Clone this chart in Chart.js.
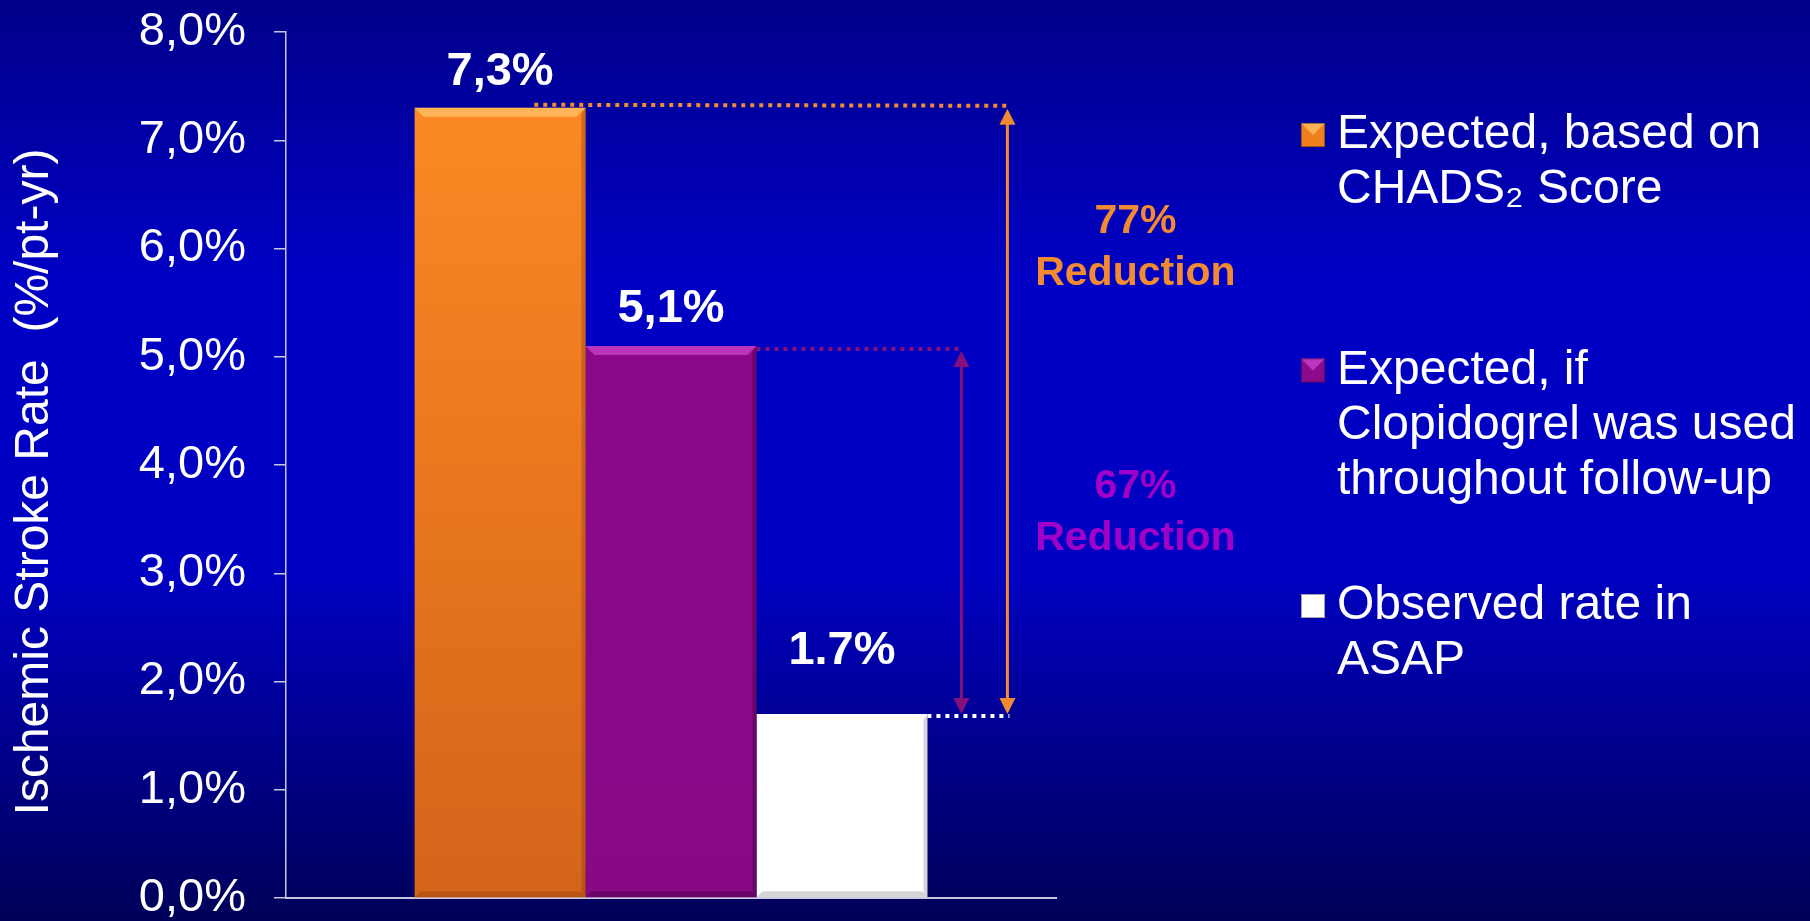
<!DOCTYPE html>
<html>
<head>
<meta charset="utf-8">
<title>Ischemic stroke rate</title>
<script src="https://cdn.jsdelivr.net/npm/chart.js@4.4.1/dist/chart.umd.min.js"></script>
<style>
  html, body { margin: 0; padding: 0; background: #000080; }
  #wrap { width: 1810px; height: 921px; }
</style>
</head>
<body>
<div id="wrap"><canvas id="bar-chart" width="1810" height="921"></canvas></div>
<script>
const FONT = "'Liberation Sans', Arial, Helvetica, sans-serif";

// data
const categories = ['ASAP'];
const seriesValues = [7.3, 5.1, 1.7];
const valueLabels = ['7,3%', '5,1%', '1.7%'];
const legendLines = [
  ['Expected, based on', 'CHADS\u2082 Score'],
  ['Expected, if', 'Clopidogrel was used', 'throughout follow-up'],
  ['Observed rate in', 'ASAP']
];
const yTickLabels = ['0,0%', '1,0%', '2,0%', '3,0%', '4,0%', '5,0%', '6,0%', '7,0%', '8,0%'];
const yTitle = 'Ischemic Stroke Rate  (%/pt-yr)';
// reduction notes: text, starting bar, value where the note sits
const reductionText = [['77%', 'Reduction'], ['67%', 'Reduction']];
const reductionFrom = [0, 1];
const reductionAt = [6.25, 3.8];

// styles
const barTop = ['#ff8c24', '#8c0a8c', '#ffffff'];
const barBottom = ['#d4641a', '#880886', '#ffffff'];
const bevelLight = ['rgba(255,210,120,0.6)', 'rgba(210,70,210,0.7)', 'rgba(255,255,255,1)'];
const bevelDark = ['rgba(150,60,10,0.4)', 'rgba(60,0,60,0.4)', 'rgba(120,120,130,0.3)'];
const markerColors = ['#f0801e', '#8c0a8c', '#ffffff'];
const noteColors = ['#f28a32', '#a000c8'];
const arrowColors = ['#f28a32', '#86107a'];
const labelLift = [36, 37, 63];

function barFill(i) {
  return (ctx) => {
    const area = ctx.chart.chartArea;
    if (!area) return barTop[i];
    const g = ctx.chart.ctx.createLinearGradient(0, area.top, 0, area.bottom);
    g.addColorStop(0, barTop[i]);
    g.addColorStop(1, barBottom[i]);
    return g;
  };
}

const background = {
  id: 'background',
  beforeDraw(chart) {
    const c = chart.ctx;
    const g = c.createLinearGradient(0, 0, 0, chart.height);
    g.addColorStop(0, '#00008a');
    g.addColorStop(0.3, '#0000c4');
    g.addColorStop(0.62, '#0000c2');
    g.addColorStop(1, '#000058');
    c.save();
    c.fillStyle = g;
    c.fillRect(0, 0, chart.width, chart.height);
    c.restore();
  }
};

function arrowHead(c, x, y, dir) {
  c.beginPath();
  c.moveTo(x, y);
  c.lineTo(x - 8, y + dir * 16);
  c.lineTo(x + 8, y + dir * 16);
  c.closePath();
  c.fill();
}

function dotted(c, x1, y1, x2, y2, color) {
  c.save();
  c.strokeStyle = color;
  c.lineWidth = 4;
  c.setLineDash([4, 5]);
  c.beginPath();
  c.moveTo(x1, y1);
  c.lineTo(x2, y2);
  c.stroke();
  c.restore();
}

const annotations = {
  id: 'annotations',
  afterDatasetsDraw(chart) {
    const c = chart.ctx;
    const y = chart.scales.y;
    const bars = seriesValues.map((v, i) => chart.getDatasetMeta(i).data[0]);

    // bevel on each bar
    bars.forEach((b, i) => {
      const l = b.x - b.width / 2, r = b.x + b.width / 2, t = b.y, bt = b.base;
      c.save();
      c.fillStyle = bevelLight[i];
      c.beginPath();
      c.moveTo(l, t); c.lineTo(r, t); c.lineTo(r - 9, t + 9); c.lineTo(l + 9, t + 9);
      c.closePath(); c.fill();
      c.fillStyle = bevelDark[i];
      c.beginPath();
      c.moveTo(r, t); c.lineTo(r, bt); c.lineTo(r - 4, bt - 4); c.lineTo(r - 4, t + 6);
      c.closePath(); c.fill();
      c.beginPath();
      c.moveTo(l, bt); c.lineTo(r, bt); c.lineTo(r - 6, bt - 6); c.lineTo(l + 6, bt - 6);
      c.closePath(); c.fill();
      c.restore();
    });

    // value labels
    c.save();
    c.fillStyle = '#ffffff';
    c.font = 'bold 47px ' + FONT;
    c.textAlign = 'center';
    c.textBaseline = 'middle';
    bars.forEach((b, i) => c.fillText(valueLabels[i], b.x, b.y - labelLift[i]));
    c.restore();

    const last = bars[bars.length - 1];
    const edge = last.x + last.width / 2;
    const arrowX = [edge + 80, edge + 34];

    // dotted guides
    dotted(c, bars[0].x + bars[0].width * 0.2, bars[0].y - 3, arrowX[0], bars[0].y - 2, noteColors[0]);
    dotted(c, bars[1].x + bars[1].width / 2, bars[1].y + 3, arrowX[1], bars[1].y + 3, arrowColors[1]);
    dotted(c, edge, last.y + 2, arrowX[0] + 2, last.y + 2, '#ffffff');

    // double arrows
    reductionFrom.forEach((from, k) => {
      const top = bars[from].y + (k === 0 ? 1 : 5);
      const bot = last.y;
      c.save();
      c.strokeStyle = arrowColors[k];
      c.fillStyle = arrowColors[k];
      c.lineWidth = 3;
      c.beginPath();
      c.moveTo(arrowX[k], top + 10);
      c.lineTo(arrowX[k], bot - 10);
      c.stroke();
      arrowHead(c, arrowX[k], top, 1);
      arrowHead(c, arrowX[k], bot, -1);
      c.restore();
    });

    // reduction notes
    c.save();
    c.font = 'bold 41px ' + FONT;
    c.textAlign = 'center';
    c.textBaseline = 'middle';
    reductionText.forEach((lines, k) => {
      c.fillStyle = noteColors[k];
      const cy = y.getPixelForValue(reductionAt[k]);
      lines.forEach((t, j) => c.fillText(t, edge + 208, cy + j * 52));
    });
    c.restore();
  },
  afterDraw(chart) {
    const c = chart.ctx;
    const area = chart.chartArea;

    // axis title
    c.save();
    c.translate(35, area.top + (area.bottom - area.top) / 2 + 17);
    c.rotate(-Math.PI / 2);
    c.font = '48px ' + FONT;
    c.fillStyle = '#ffffff';
    c.textAlign = 'center';
    c.textBaseline = 'middle';
    c.fillText(yTitle, 0, 0);
    c.restore();

    // legend
    const mx = area.right + 245, tx = mx + 36;
    c.save();
    c.font = '48px ' + FONT;
    c.textBaseline = 'middle';
    legendLines.forEach((lines, i) => {
      const gy = area.top + 103 + i * 235.5;
      // marker with a small bevel
      c.fillStyle = markerColors[i];
      c.fillRect(mx, gy - 12, 24, 24);
      c.fillStyle = bevelLight[i];
      c.beginPath();
      c.moveTo(mx, gy - 12); c.lineTo(mx + 24, gy - 12); c.lineTo(mx + 12, gy); c.closePath();
      c.fill();
      c.strokeStyle = 'rgba(0,0,0,0.35)';
      c.lineWidth = 1;
      c.strokeRect(mx + 0.5, gy - 11.5, 23, 23);
      c.fillStyle = '#ffffff';
      lines.forEach((t, j) => c.fillText(t, tx, gy + j * 55));
    });
    c.restore();
  }
};

new Chart(document.getElementById('bar-chart'), {
  type: 'bar',
  data: {
    labels: categories,
    datasets: seriesValues.map((v, i) => ({
      label: legendLines[i].join(' '),
      data: [v],
      backgroundColor: barFill(i),
      borderWidth: 0,
      barPercentage: 1,
      categoryPercentage: 0.666
    }))
  },
  options: {
    responsive: false,
    animation: false,
    events: [],
    layout: { padding: { top: 32, right: 754, bottom: 0, left: 0 } },
    plugins: {
      legend: { display: false },
      tooltip: { enabled: false },
      title: { display: false }
    },
    scales: {
      x: {
        grid: { display: false },
        ticks: { display: false },
        border: { display: true, color: '#c8c8dc', width: 2 },
        afterFit(scale) {
          scale.height = 23;
          scale.paddingLeft = 0; scale.paddingRight = 0;
          scale.paddingTop = 0; scale.paddingBottom = 0;
        }
      },
      y: {
        min: 0,
        max: 8,
        ticks: {
          stepSize: 1,
          color: '#ffffff',
          padding: 28,
          font: { family: FONT, size: 47 },
          callback: (v, i) => yTickLabels[i]
        },
        grid: { drawOnChartArea: false, drawTicks: true, tickLength: 12, color: '#c8c8dc', lineWidth: 1.5 },
        border: { display: true, color: '#c8c8dc', width: 1.5 },
        afterFit(scale) {
          scale.width = 286;
          scale.paddingTop = 0; scale.paddingBottom = 0;
        }
      }
    }
  },
  plugins: [background, annotations]
});
</script>
</body>
</html>
